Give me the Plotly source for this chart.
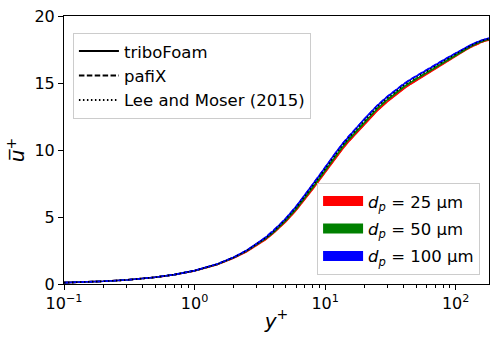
import plotly.graph_objects as go

# wall-normal coordinate y+ (shared by all profiles)
y_plus = [0.1, 0.15, 0.2, 0.3, 0.4, 0.5, 0.7, 1, 1.5, 2, 2.5, 3, 3.5, 4, 4.5, 5,
          6, 7, 8, 9, 10, 11, 12, 13.5, 15, 17.5, 20, 22.5, 25, 30, 35, 40, 45,
          50, 60, 70, 80, 90, 100, 115, 130, 145, 160, 170, 180]

# reference DNS profile
u_lee_moser = [0.1, 0.15, 0.2, 0.3, 0.4, 0.5, 0.7, 1.0, 1.49, 1.99, 2.48, 2.96, 3.43, 3.9,
               4.36, 4.82, 5.7, 6.53, 7.3, 7.98, 8.6, 9.18, 9.68, 10.32, 10.86, 11.58, 12.22,
               12.75, 13.2, 13.88, 14.4, 14.82, 15.15, 15.42, 15.9, 16.28, 16.6, 16.9,
               17.15, 17.5, 17.78, 18.0, 18.17, 18.26, 18.3]

# triboFoam (solid)
u_tribo_25 = [0.1, 0.15, 0.2, 0.3, 0.4, 0.5, 0.69, 0.98, 1.46, 1.94, 2.41, 2.87, 3.32, 3.77,
              4.21, 4.65, 5.5, 6.31, 7.06, 7.73, 8.34, 8.91, 9.4, 10.04, 10.58, 11.3, 11.94,
              12.47, 12.92, 13.61, 14.14, 14.57, 14.91, 15.19, 15.69, 16.09, 16.43, 16.74,
              17.0, 17.37, 17.66, 17.89, 18.07, 18.16, 18.2]
u_tribo_50 = [0.1, 0.15, 0.2, 0.3, 0.4, 0.5, 0.7, 0.99, 1.48, 1.97, 2.45, 2.92, 3.38, 3.84,
              4.29, 4.74, 5.6, 6.42, 7.18, 7.86, 8.47, 9.05, 9.54, 10.18, 10.72, 11.44, 12.08,
              12.61, 13.06, 13.75, 14.27, 14.7, 15.03, 15.3, 15.79, 16.18, 16.51, 16.82,
              17.07, 17.43, 17.72, 17.95, 18.12, 18.21, 18.25]
u_tribo_100 = [0.1, 0.15, 0.2, 0.3, 0.4, 0.5, 0.7, 1.0, 1.5, 2.0, 2.5, 2.99, 3.47, 3.95,
               4.42, 4.89, 5.78, 6.62, 7.4, 8.08, 8.7, 9.28, 9.78, 10.42, 10.96, 11.68, 12.32,
               12.85, 13.3, 13.98, 14.5, 14.92, 15.25, 15.52, 16.0, 16.37, 16.68, 16.97,
               17.22, 17.56, 17.83, 18.04, 18.2, 18.29, 18.33]

# pafiX (dashed)
u_pafix_25 = [0.1, 0.15, 0.2, 0.3, 0.4, 0.5, 0.69, 0.98, 1.46, 1.95, 2.43, 2.89, 3.34, 3.79,
              4.23, 4.68, 5.53, 6.34, 7.09, 7.76, 8.37, 8.94, 9.43, 10.07, 10.61, 11.33, 11.97,
              12.5, 12.95, 13.64, 14.17, 14.6, 14.94, 15.22, 15.72, 16.12, 16.46, 16.76,
              17.02, 17.39, 17.68, 17.9, 18.08, 18.17, 18.21]
u_pafix_50 = [0.1, 0.15, 0.2, 0.3, 0.4, 0.5, 0.7, 0.99, 1.48, 1.98, 2.47, 2.94, 3.4, 3.86,
              4.31, 4.77, 5.63, 6.45, 7.21, 7.89, 8.5, 9.08, 9.57, 10.21, 10.75, 11.47, 12.11,
              12.64, 13.09, 13.78, 14.3, 14.73, 15.06, 15.33, 15.82, 16.2, 16.53, 16.84,
              17.09, 17.45, 17.74, 17.96, 18.13, 18.22, 18.26]
u_pafix_100 = [0.1, 0.15, 0.2, 0.3, 0.4, 0.5, 0.7, 1.0, 1.5, 2.0, 2.51, 3.0, 3.49, 3.97,
               4.44, 4.91, 5.8, 6.64, 7.42, 8.1, 8.72, 9.3, 9.8, 10.44, 10.98, 11.7, 12.34,
               12.87, 13.32, 14.0, 14.52, 14.94, 15.27, 15.54, 16.02, 16.39, 16.7, 16.99,
               17.23, 17.57, 17.84, 18.05, 18.21, 18.3, 18.34]

diameters = ["25", "50", "100"]
colors = {"25": "#ff0000", "50": "#008000", "100": "#0000ff"}
tribo = {"25": u_tribo_25, "50": u_tribo_50, "100": u_tribo_100}
pafix = {"25": u_pafix_25, "50": u_pafix_50, "100": u_pafix_100}

DASH = "5.5px,2.4px"
DOT = "1.5px,2.5px"

fig = go.Figure()

for key in diameters:
    fig.add_trace(go.Scatter(x=y_plus, y=tribo[key], mode="lines",
                             line=dict(color=colors[key], width=1.6),
                             showlegend=False, hoverinfo="skip"))
    fig.add_trace(go.Scatter(x=y_plus, y=pafix[key], mode="lines",
                             line=dict(color=colors[key], width=1.6, dash=DASH),
                             showlegend=False, hoverinfo="skip"))

fig.add_trace(go.Scatter(x=y_plus, y=u_lee_moser, mode="lines",
                         line=dict(color="black", width=1.6, dash=DOT),
                         showlegend=False, hoverinfo="skip"))

# legend proxies: line styles
for name, dash in [("triboFoam", "solid"), ("pafiX", DASH),
                   ("Lee and Moser (2015)", DOT)]:
    fig.add_trace(go.Scatter(x=[None], y=[None], mode="lines", name=name,
                             line=dict(color="black", width=2, dash=dash),
                             legend="legend"))

# legend proxies: particle diameters
for key in diameters:
    fig.add_trace(go.Scatter(x=[None], y=[None], mode="lines",
                             name=f"<i>d</i><sub><i>p</i></sub> = {key} μm",
                             line=dict(color=colors[key], width=12),
                             legend="legend2", legendgroup=key))

font = "DejaVu Sans, Arial, sans-serif"

fig.update_xaxes(
    type="log", range=[-1, 2.2553], automargin=False,
    tickvals=[0.1, 1, 10, 100],
    ticktext=["10<sup>−1</sup>", "10<sup>0</sup>", "10<sup>1</sup>", "10<sup>2</sup>"],
    ticks="outside", ticklen=5, tickwidth=1, tickcolor="black",
    minor=dict(ticks="outside", ticklen=3, tickcolor="black", tickwidth=0.8,
               tickvals=[0.2, 0.3, 0.4, 0.5, 0.6, 0.7, 0.8, 0.9,
                         2, 3, 4, 5, 6, 7, 8, 9,
                         20, 30, 40, 50, 60, 70, 80, 90]),
    showline=True, linecolor="black", linewidth=1, mirror=True,
    showgrid=False, zeroline=False, ticklabeloverflow="allow",
    tickfont=dict(size=16, color="black"),
    title=dict(text="<i>y</i><sup>+</sup>", font=dict(size=20, color="black"), standoff=1),
)
fig.update_yaxes(
    range=[0, 20], tickvals=[0, 5, 10, 15, 20], automargin=False,
    ticks="outside", ticklen=5, tickwidth=1, tickcolor="black",
    showline=True, linecolor="black", linewidth=1, mirror=True,
    showgrid=False, zeroline=False, ticklabeloverflow="allow",
    tickfont=dict(size=16, color="black"),
    title=dict(text="<i>u̅</i><sup>+</sup>", font=dict(size=20, color="black"), standoff=4),
)

fig.update_layout(
    width=499, height=347,
    margin=dict(l=64, r=10, t=16, b=63),
    paper_bgcolor="white", plot_bgcolor="white",
    font=dict(family=font, size=16, color="black"),
    legend=dict(x=0.021, y=0.937, xanchor="left", yanchor="top",
                bgcolor="white", bordercolor="#cccccc", borderwidth=1,
                font=dict(size=16.5), tracegroupgap=0, itemwidth=40),
    legend2=dict(x=0.979, y=0.034, xanchor="right", yanchor="bottom",
                 bgcolor="white", bordercolor="#cccccc", borderwidth=1,
                 font=dict(size=16.5), tracegroupgap=3, itemwidth=40),
)

# drop the default 8 px body margin so the figure fills the window exactly
fig.write_html("out.html", config={"displayModeBar": False},
               post_script="document.body.style.margin = '0';")
